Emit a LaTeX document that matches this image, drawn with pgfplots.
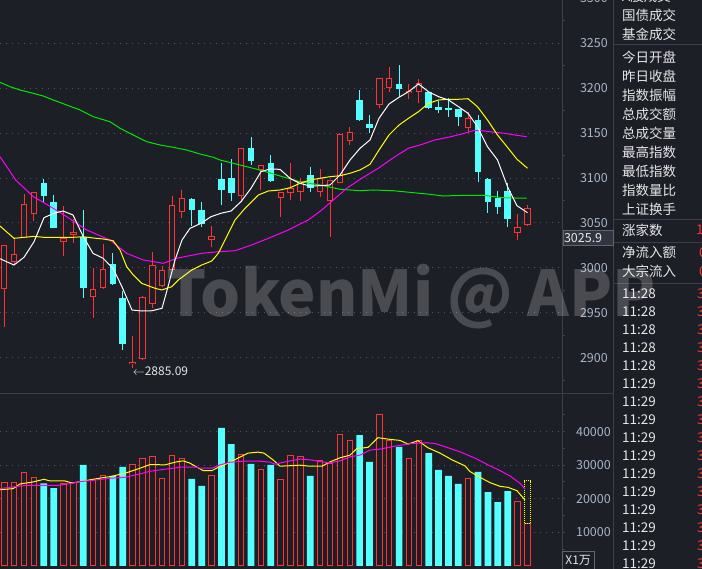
\documentclass[border=0pt]{standalone}
\usepackage{fontspec}
\setmainfont{Noto Sans CJK SC}
\usepackage{pgfplots}
\usepackage{pgfplotstable}
\pgfplotsset{compat=1.18}

\definecolor{bgc}{HTML}{1C1F26}
\definecolor{upc}{HTML}{FF3333}
\definecolor{dnc}{HTML}{55FFFF}
\definecolor{gridc}{HTML}{50555F}
\definecolor{axc}{HTML}{3A3F4A}
\definecolor{labc}{HTML}{A9B5C5}
\definecolor{txtc}{HTML}{E6E6E6}
\definecolor{ma10}{HTML}{FFFF00}
\definecolor{ma20}{HTML}{FF00FF}
\definecolor{ma60}{HTML}{00E600}

% up (red) candles: index, open, high, low, close, volume
\pgfplotstableread{
i o h l c v
0 2976.1 3025.5 2934.5 3025.1 24900
1 3006.9 3032.9 3004.0 3015.1 24900
2 3033.6 3082.2 3033.0 3070.8 27900
3 3059.6 3084.5 3052.5 3084.1 26400
6 3028.5 3068.9 3013.6 3033.6 24400
7 3036.9 3054.1 3027.4 3039.6 24900
9 2967.9 2999.5 2944.5 2976.2 25600
10 2977.3 3026.6 2977.0 2998.8 27000
13 2893.0 2924.2 2888.0 2895.2 30300
14 2898.9 2968.3 2897.5 2967.9 32100
15 2959.4 3017.3 2955.0 3002.9 32700
16 2980.2 3002.1 2978.4 2997.3 26100
17 2997.6 3080.0 2997.0 3069.7 33000
18 3061.9 3086.7 3055.2 3077.4 32100
21 3030.7 3046.3 3022.9 3035.5 27000
24 3080.3 3133.5 3074.8 3133.1 33300
26 3109.0 3115.0 3086.7 3114.5 28800
28 3077.4 3085.0 3056.3 3084.1 25600
29 3083.0 3116.4 3075.6 3088.6 33000
30 3084.1 3100.4 3074.8 3096.7 32700
32 3084.1 3109.7 3078.6 3100.4 31300
33 3074.1 3098.0 3034.7 3097.8 30400
34 3094.8 3150.5 3094.0 3148.7 39200
35 3140.9 3157.2 3137.1 3150.9 37400
38 3181.0 3211.5 3177.6 3211.0 45000
39 3199.9 3224.0 3195.5 3211.0 37400
41 3195.2 3204.7 3187.7 3197.4 32100
42 3196.1 3209.9 3183.2 3205.5 37400
47 3155.4 3173.2 3151.6 3166.5 26100
52 3038.5 3060.0 3031.0 3045.2 19200
53 3047.4 3070.0 3047.0 3066.3 12700
}\up

% down (cyan) candles
\pgfplotstableread{
i o h l c v
4 3094.1 3098.9 3073.7 3080.3 24600
5 3073.0 3081.1 3044.0 3044.7 23200
8 3034.7 3064.4 2966.1 2977.9 30100
11 3004.3 3016.6 2980.9 2982.1 26800
12 2966.5 2974.3 2908.6 2915.6 29500
19 3076.3 3077.8 3046.6 3064.8 25900
20 3064.4 3073.3 3045.8 3048.5 23800
22 3098.9 3117.1 3070.3 3086.7 41100
23 3100.1 3120.9 3074.8 3083.7 36300
25 3133.1 3145.4 3114.9 3119.0 30400
27 3116.4 3125.7 3096.0 3097.0 30100
31 3103.4 3112.0 3084.8 3089.3 26800
36 3186.9 3198.0 3163.8 3164.6 39000
37 3160.2 3170.2 3149.8 3155.7 31000
40 3204.7 3225.8 3190.6 3199.5 35500
43 3195.5 3196.0 3176.5 3178.3 33600
44 3178.8 3186.1 3172.1 3175.7 28600
45 3178.0 3188.8 3168.3 3175.7 26800
46 3176.9 3177.0 3157.9 3168.3 24400
48 3164.6 3170.2 3095.9 3107.1 28000
49 3098.9 3100.4 3061.4 3073.7 22000
50 3078.1 3085.6 3060.0 3068.1 19000
51 3085.6 3094.2 3045.2 3054.7 22300
}\dn

\pgfplotsset{
  candle/.style n args={3}{only marks, mark=none, mark size=0pt,
    mark options={draw=none, fill=none},
    error bars/.cd, y dir=plus, y explicit, error mark=none,
    error bar style={line width=#1, color=#2, #3}},
  lab/.style={anchor=east, inner sep=0pt, xshift=45.7pt, text=labc,
    font=\fontsize{12.5}{13}\selectfont},
}

\begin{document}
\begin{tikzpicture}[x=1pt, y=1pt]
\useasboundingbox (0,0) rectangle (702,569);
\clip (0,0) rectangle (702,569);
\fill[bgc] (0,0) rectangle (702,569);

% price panel
\begin{axis}[
  at={(0pt,175.7pt)}, anchor=south west,
  scale only axis, width=562.3pt, height=393.3pt,
  xmin=0, xmax=562.3, ymin=2860.4, ymax=3298.2,
  axis line style={draw=none}, xtick=\empty,
  ytick={2900,2950,3000,3050,3100,3150,3200,3250},
  yticklabels={2900,2950,3000,3050,3100,3150,3200,3250},
  minor ytick={2875,2925,2975,3025,3075,3125,3175,3225,3275},
  scaled y ticks=false,
  ytick pos=right, yticklabel pos=right, tick align=outside,
  major tick length=0pt, minor tick length=3pt,
  tick style={color=axc, line width=1pt},
  ymajorgrids, grid style={color=gridc, line width=1pt, dash pattern=on 1pt off 5pt},
  yticklabel style={lab},
]
% red candles: wick, body outline, hollow inside
\addplot[candle={1pt}{upc}{}] table[x expr=4.3+9.87*\thisrow{i}, y=l, y error plus expr=\thisrow{h}-\thisrow{l}] {\up};
\addplot[candle={6.3pt}{upc}{}] table[x expr=4.3+9.87*\thisrow{i}, y=o, y error plus expr=\thisrow{c}-\thisrow{o}] {\up};
\addplot[candle={4.3pt}{bgc}{shorten <=1pt, shorten >=1pt}] table[x expr=4.3+9.87*\thisrow{i}, y=o, y error plus expr=\thisrow{c}-\thisrow{o}] {\up};
% cyan candles
\addplot[candle={1pt}{dnc}{}] table[x expr=4.3+9.87*\thisrow{i}, y=l, y error plus expr=\thisrow{h}-\thisrow{l}] {\dn};
\addplot[candle={6.5pt}{dnc}{}] table[x expr=4.3+9.87*\thisrow{i}, y=c, y error plus expr=\thisrow{o}-\thisrow{c}] {\dn};

% MA60
\addplot[ma60, line width=1pt] coordinates {(0,3206.6) (10,3201.7) (20,3198.0) (33.3,3194.3) (43.3,3191.3) (53.3,3186.9) (66.7,3181.3) (80,3175.8) (93.3,3168.3) (110,3162.7) (120,3155.4) (133.3,3147.9) (146.7,3140.5) (160,3136.8) (173.3,3134.2) (186.7,3131.2) (200,3126.8) (213.3,3123.1) (220,3120.1) (240,3114.5) (260,3108.9) (280,3102.3) (300,3095.9) (320,3092.3) (340,3087.5) (360,3085.9) (373.3,3086.7) (393.3,3085.9) (413.3,3083.7) (430,3081.9) (443.3,3080.0) (463.3,3080.8) (483.3,3080.8) (503.3,3078.1) (526.7,3077.5)};
% MA20
\addplot[ma20, line width=1pt] coordinates {(0,3123.8) (15.7,3097.8) (33.3,3079.2) (45,3071.9) (66.7,3057.0) (86.7,3042.2) (110,3031.0) (126.7,3016.2) (143.3,3008.8) (163.3,3005.1) (176.7,3010.7) (201.7,3016.2) (218.3,3018.0) (235,3019.1) (251.7,3025.5) (268.3,3032.9) (288.3,3042.2) (308.3,3053.3) (321.7,3064.4) (333.3,3075.6) (346.7,3088.6) (361.7,3099.7) (378.3,3110.9) (395,3123.8) (408.3,3133.1) (420,3136.8) (435,3142.4) (448.3,3145.4) (461.7,3149.0) (473.3,3152.7) (481.7,3152.7) (495,3150.9) (505,3149.8) (515,3147.9) (526.7,3146.0)};
% MA10
\addplot[ma10, line width=1pt] coordinates {(0,3046.6) (14,3032.9) (24,3034.0) (34,3035.1) (44,3034.0) (63,3034.0) (73,3034.0) (83,3034.7) (93,3033.3) (103,3032.2) (113,3030.3) (120,3019.9) (126.7,3001.3) (133.3,2992.1) (141.7,2982.8) (155,2977.3) (161.7,2975.4) (171.7,2979.0) (178.3,2986.5) (191.7,2997.6) (201.7,3003.2) (211.7,3007.6) (218.3,3016.2) (225,3031.0) (235,3053.3) (245,3066.3) (258.3,3081.1) (268.3,3085.6) (280,3086.7) (290,3089.2) (300,3094.1) (310,3097.8) (320,3099.7) (330,3101.5) (340,3102.6) (350,3105.3) (360,3109.0) (370,3115.3) (379,3131.2) (389,3147.9) (399,3159.0) (408.5,3166.5) (418.5,3173.9) (428.5,3183.2) (438.5,3186.9) (448.5,3187.7) (458.5,3187.7) (468,3188.3) (477.5,3179.4) (487.5,3164.6) (497.5,3147.9) (507.5,3134.2) (517,3120.9) (527.5,3110.9)};
% MA5
\addplot[white, line width=1pt] coordinates {(0,3010.2) (14,3003.2) (24,3011.8) (34,3029.1) (44,3055.9) (54,3060.8) (63,3063.3) (73,3058.9) (83,3035.5) (93,3016.2) (103,3010.7) (113,2999.5) (122,2979.0) (132,2953.1) (142,2952.0) (152,2952.3) (162,2955.0) (168,2979.0) (175,3008.8) (182,3031.0) (190,3044.0) (201,3049.6) (211,3057.0) (221,3060.8) (231,3063.3) (241,3073.7) (251,3088.6) (261,3107.1) (270,3110.1) (280,3109.7) (290,3099.7) (300,3094.1) (310,3091.1) (320,3091.5) (330,3092.3) (340,3103.4) (350,3120.1) (360,3133.1) (370,3142.4) (379,3166.5) (389,3182.4) (399,3189.9) (408.5,3196.1) (418.5,3204.7) (428.5,3196.1) (438.5,3190.6) (448.5,3186.9) (458.5,3179.4) (468,3172.1) (477.5,3157.2) (487.5,3134.9) (497.5,3120.1) (507.5,3090.4) (517,3069.2) (527.5,3061.4)};

\node[anchor=west, text=txtc, inner sep=0pt, font=\fontsize{12}{13}\selectfont] at (axis cs:132.6,2885.09) {$\leftarrow$2885.09};
\end{axis}

% volume panel
\begin{axis}[
  at={(0pt,0pt)}, anchor=south west,
  scale only axis, width=562.3pt, height=175.7pt,
  xmin=0, xmax=562.3, ymin=-954, ymax=51446,
  axis line style={draw=none}, xtick=\empty,
  ytick={10000,20000,30000,40000},
  yticklabels={10000,20000,30000,40000},
  minor ytick={5000,15000,25000,35000,45000},
  scaled y ticks=false,
  ytick pos=right, yticklabel pos=right, tick align=outside,
  major tick length=3pt, minor tick length=3pt,
  tick style={color=axc, line width=1pt},
  ymajorgrids, grid style={color=gridc, line width=1pt, dash pattern=on 1pt off 5pt},
  yticklabel style={lab},
]
\addplot[ybar, bar width=5.4pt, bar shift=0pt, draw=upc, line width=1pt, fill=bgc] table[x expr=4.3+9.87*\thisrow{i}, y=v] {\up};
\addplot[ybar, bar width=6.7pt, bar shift=0pt, draw=none, fill=dnc] table[x expr=4.3+9.87*\thisrow{i}, y=v] {\dn};
\addplot[ma10, line width=1pt, dash pattern=on 1pt off 1pt] coordinates {(524.1,12700) (524.1,25300) (530.7,25300) (530.7,12700) (524.1,12700)};
\addplot[ma10, line width=1pt] coordinates {(0,22700) (13,23000) (20,24400) (33,25000) (44,25800) (50,25300) (65,25300) (72,24700) (80,25100) (95,25900) (110,26600) (125,27600) (140,29100) (150,30200) (165,30100) (175,30900) (183,31300) (190,30600) (197,29400) (203,28400) (212,28400) (218,29300) (228,30600) (238,32100) (248,33600) (258,33900) (264,33600) (273,31600) (280,29700) (300,30000) (310,29700) (322,29700) (330,31000) (340,32200) (350,33000) (357,35000) (368,35300) (378,38200) (390,37700) (400,37400) (408,36300) (418,37300) (428,35200) (440,33600) (452,31600) (465,29800) (470,28100) (480,26400) (490,24800) (500,23700) (508,23400) (517,22400) (525,19600)};
\addplot[ma20, line width=1pt] coordinates {(0,23000) (20,23800) (30,24000) (58,24000) (70,24500) (80,25100) (90,25400) (110,26100) (125,26400) (140,27400) (150,28200) (165,28800) (180,29400) (197,29400) (200,29100) (212,29100) (220,30100) (230,30900) (245,31200) (260,31200) (270,30900) (275,30300) (290,31300) (300,31800) (310,31600) (322,31000) (330,30700) (340,31300) (350,32500) (360,33000) (370,34500) (380,34800) (395,35700) (410,36400) (425,36700) (435,36500) (445,35500) (460,34000) (475,32100) (490,29800) (500,28400) (510,26800) (520,24600) (525,22900)};
\end{axis}

% frame lines
\draw[axc, line width=1pt] (562.3,0) -- (562.3,569);
\draw[axc, line width=1pt] (0,175.7) -- (613.3,175.7);
\draw[axc, line width=1pt] (613.3,0) -- (613.3,569);
\foreach \yy in {524,349.7,326.7,285} \draw[axc, line width=1pt] (613.3,\yy) -- (702,\yy);

% partial top label and price tag
\node[anchor=east, inner sep=0pt, text=labc, font=\fontsize{12.5}{13}\selectfont] at (608,570.6) {3300};
\draw[fill=axc!70!bgc, draw=axc!80!white] (563,323.3) rectangle (613,339);
\node[anchor=west, inner sep=0pt, text=txtc, font=\fontsize{12.5}{13}\selectfont] at (563.8,331.1) {3025.9};
\draw[draw=axc!80!white, fill=bgc] (562.3,-1) rectangle (594,17.3);
\node[inner sep=0pt, text=txtc, font=\fontsize{12}{13}\selectfont] at (578.2,8.2) {X1万};

% right panel
\begin{scope}[every node/.style={anchor=west, inner sep=0pt, text=txtc, font=\fontsize{13.5}{14}\selectfont}]
\node at (622,573) {A股成交};
\node at (622,554) {国债成交};
\node at (622,534.7) {基金成交};
\node at (622,511.7) {今日开盘};
\node at (622,492.7) {昨日收盘};
\node at (622,473.7) {指数振幅};
\node at (622,454.7) {总成交额};
\node at (622,435.7) {总成交量};
\node at (622,416.7) {最高指数};
\node at (622,397.7) {最低指数};
\node at (622,378.7) {指数量比};
\node at (622,359.7) {上证换手};
\node at (622,339) {涨家数};
\node[text=upc] at (696,339) {1};
\node at (622,316.7) {净流入额};
\node[text=upc] at (699,316.7) {0};
\node at (622,297.3) {大宗流入};
\node[text=upc] at (699,297.3) {0};
\foreach \k in {0,...,4} {
  \node at (622,275.5-18*\k) {11:28};
  \node[text=upc] at (697,275.5-18*\k) {3};
}
\foreach \k in {5,...,15} {
  \node at (622,275.5-18*\k) {11:29};
  \node[text=upc] at (697,275.5-18*\k) {3};
}
\end{scope}

% watermark
\node[anchor=base west, inner sep=0pt, text=white, opacity=0.2, font=\fontsize{63}{63}\selectfont\bfseries] at (166,252.3) {TokenMi @ APP};
\end{tikzpicture}
\end{document}
